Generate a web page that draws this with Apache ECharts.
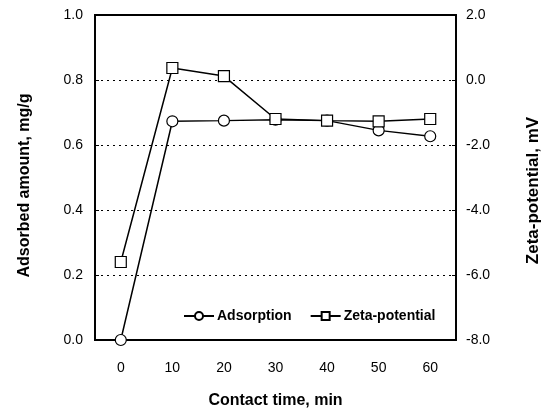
<!DOCTYPE html>
<html>
<head>
<meta charset="utf-8">
<script src="https://cdn.jsdelivr.net/npm/echarts@6/dist/echarts.min.js"></script>
<style>html,body{margin:0;padding:0;background:#fff}#c{width:550px;height:414px}</style>
</head>
<body>
<div id="c"></div>
<script>
// contact time, min
const times = ['0', '10', '20', '30', '40', '50', '60']
// adsorbed amount, mg/g (left axis)
const adsorption = [0.0, 0.673, 0.675, 0.678, 0.675, 0.645, 0.627]
// zeta-potential, mV (right axis)
const zeta = [-5.6, 0.37, 0.12, -1.2, -1.25, -1.27, -1.2]

const font = 'Liberation Sans, Arial, sans-serif'
const title = (size, padding) => ({ fontFamily: font, fontWeight: 'bold', fontSize: size, color: '#000', padding })
const chart = echarts.init(document.getElementById('c'))
chart.setOption({
  backgroundColor: '#fff',
  animation: false,
  grid: { left: 95, right: 90, top: 15, bottom: 71, show: true, borderColor: '#000', borderWidth: 1.8, backgroundColor: 'transparent' },
  legend: {
    left: 178, top: 304, itemGap: 18, itemWidth: 30, itemHeight: 10,
    textStyle: { fontFamily: font, fontWeight: 'bold', fontSize: 14, color: '#000', padding: [0, 0, 0, -2] },
    data: ['Adsorption', 'Zeta-potential'],
  },
  xAxis: {
    type: 'category', data: times, boundaryGap: true,
    name: 'Contact time, min', nameLocation: 'middle', nameGap: 53,
    nameTextStyle: title(16),
    axisLine: { lineStyle: { color: '#000', width: 1.8 } },
    axisTick: { inside: true, length: 4, lineStyle: { color: '#000' } },
    axisLabel: { fontFamily: font, fontSize: 14, color: '#000', margin: 21 },
  },
  yAxis: [{
    type: 'value', min: 0, max: 1, interval: 0.2,
    name: 'Adsorbed amount, mg/g', nameLocation: 'middle', nameGap: 62,
    nameTextStyle: title(16, [0, 16, 0, 0]),
    axisLine: { show: true, lineStyle: { color: '#000', width: 1.8 } },
    axisTick: { show: true, inside: true, length: 4, lineStyle: { color: '#000' } },
    axisLabel: { fontFamily: font, fontSize: 14, color: '#000', margin: 12, formatter: v => v.toFixed(1) },
    splitLine: { show: true, lineStyle: { type: [2, 4], color: '#000', width: 1 } },
  }, {
    type: 'value', min: -8, max: 2, interval: 2,
    name: 'Zeta-potential, mV', nameLocation: 'middle', nameGap: 69, nameRotate: 90,
    nameTextStyle: title(17, [0, 26, 0, 0]),
    axisLine: { show: true, lineStyle: { color: '#000', width: 1.8 } },
    axisTick: { show: true, inside: true, length: 4, lineStyle: { color: '#000' } },
    axisLabel: { fontFamily: font, fontSize: 14, color: '#000', margin: 10, formatter: v => v.toFixed(1) },
    splitLine: { show: false },
  }],
  series: [{
    name: 'Adsorption', type: 'line', yAxisIndex: 0, data: adsorption,
    symbol: 'circle', symbolSize: 11,
    lineStyle: { color: '#000', width: 1.5 },
    itemStyle: { color: '#fff', borderColor: '#000', borderWidth: 1.2 },
  }, {
    name: 'Zeta-potential', type: 'line', yAxisIndex: 1, data: zeta,
    symbol: 'rect', symbolSize: 11,
    lineStyle: { color: '#000', width: 1.5 },
    itemStyle: { color: '#fff', borderColor: '#000', borderWidth: 1.2 },
  }],
})
</script>
</body>
</html>
